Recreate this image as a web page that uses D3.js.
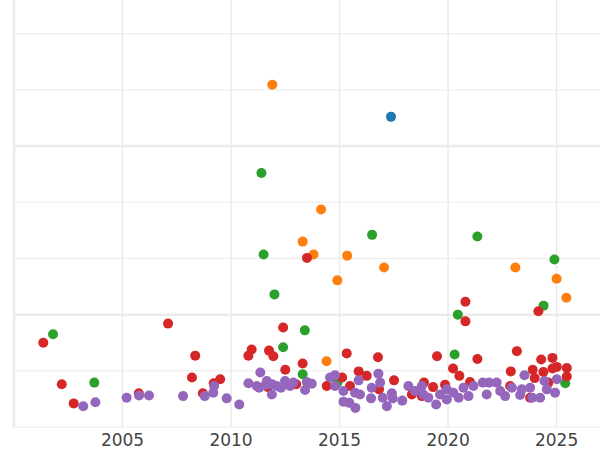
<!DOCTYPE html>
<html>
<head>
<meta charset="utf-8">
<script src="https://cdn.jsdelivr.net/npm/d3@7"></script>
<style>body{margin:0;background:#fff}</style>
</head>
<body>
<div id="chart"></div>
<script>
// [year, value] per series
var blue = [[2017.37, 6.52]];
var orange = [[2011.9, 7.09], [2014.15, 4.87], [2013.3, 4.30], [2013.8, 4.07], [2015.35, 4.05], [2017.05, 3.84],
  [2014.9, 3.61], [2023.1, 3.84], [2025.0, 3.64], [2025.45, 3.30], [2014.4, 2.17]];
var green = [[2001.8, 2.65], [2003.7, 1.79], [2011.4, 5.52], [2011.5, 4.07], [2012.0, 3.36], [2012.4, 2.42],
  [2013.4, 2.72], [2013.3, 1.94], [2016.5, 4.42], [2021.35, 4.39], [2020.45, 3.0], [2020.3, 2.29],
  [2024.4, 3.16], [2024.9, 3.98], [2025.4, 1.78], [2014.9, 1.79]];
var red = [[2001.35, 2.50], [2002.2, 1.76], [2002.75, 1.42], [2005.75, 1.60], [2007.1, 2.84], [2008.35, 2.27],
  [2008.2, 1.88], [2008.7, 1.60], [2009.2, 1.78], [2009.5, 1.85], [2010.8, 2.27], [2010.95, 2.38],
  [2011.75, 2.36], [2011.95, 2.26], [2012.4, 2.77], [2012.5, 2.02], [2011.7, 1.71], [2013.0, 1.76],
  [2013.5, 4.01], [2013.3, 2.13], [2015.33, 2.31], [2015.12, 1.88], [2015.88, 1.99], [2016.25, 1.91],
  [2016.77, 2.24], [2017.51, 1.83], [2019.49, 2.26], [2020.23, 2.04], [2020.52, 1.91], [2020.8, 3.23],
  [2020.8, 2.88], [2021.35, 2.21], [2022.89, 1.99], [2023.17, 2.35], [2023.9, 2.02], [2023.99, 1.87],
  [2024.16, 3.06], [2024.29, 2.20], [2024.39, 1.98], [2024.81, 2.23], [2024.81, 2.04], [2025.01, 2.07],
  [2025.47, 2.05], [2025.47, 1.90], [2014.41, 1.73], [2015.48, 1.73], [2016.82, 1.67], [2018.33, 1.58],
  [2018.89, 1.79], [2019.31, 1.71], [2019.86, 1.75], [2021.01, 1.80], [2022.86, 1.73], [2023.78, 1.52],
  [2024.62, 1.79], [2018.79, 1.55]];
var purple = [[2003.19, 1.37], [2003.75, 1.44], [2005.19, 1.52], [2005.76, 1.56], [2006.22, 1.56], [2007.79, 1.55],
  [2008.79, 1.55], [2009.18, 1.61], [2009.22, 1.73], [2009.8, 1.51], [2010.38, 1.40], [2010.8, 1.78],
  [2011.35, 1.97], [2011.18, 1.73], [2011.65, 1.82], [2011.88, 1.58], [2012.11, 1.73], [2012.49, 1.82],
  [2012.87, 1.79], [2012.72, 1.73], [2011.3, 1.70], [2011.6, 1.75], [2012.3, 1.70], [2011.9, 1.76],
  [2013.41, 1.66], [2013.49, 1.80], [2013.72, 1.77], [2014.56, 1.88], [2014.79, 1.92], [2014.79, 1.73],
  [2015.18, 1.64], [2015.18, 1.45], [2015.45, 1.43], [2015.73, 1.34], [2015.71, 1.61], [2015.88, 1.83],
  [2015.94, 1.58], [2016.45, 1.51], [2016.48, 1.70], [2016.79, 1.95], [2016.87, 1.79], [2016.99, 1.52],
  [2017.18, 1.37], [2017.41, 1.60], [2017.45, 1.51], [2017.89, 1.47], [2018.17, 1.73], [2018.48, 1.64],
  [2018.79, 1.73], [2018.86, 1.58], [2019.09, 1.52], [2019.45, 1.40], [2019.63, 1.58], [2019.94, 1.67],
  [2019.94, 1.49], [2020.24, 1.61], [2020.49, 1.52], [2020.71, 1.70], [2020.94, 1.55], [2021.17, 1.73],
  [2021.6, 1.79], [2021.78, 1.58], [2021.89, 1.79], [2022.24, 1.79], [2022.4, 1.64], [2022.63, 1.55],
  [2022.94, 1.70], [2023.32, 1.57], [2023.4, 1.67], [2023.52, 1.92], [2023.78, 1.70], [2023.88, 1.52],
  [2024.24, 1.52], [2024.44, 1.82], [2024.55, 1.67], [2024.93, 1.61], [2025.01, 1.85]];
var xTicks = [2000, 2005, 2010, 2015, 2020, 2025];
var yGrid = [1, 2, 3, 4, 5, 6, 7, 8];

var series = [
  { data: blue, color: "#1f77b4" },
  { data: orange, color: "#ff7f0e" },
  { data: green, color: "#2ca02c" },
  { data: red, color: "#d62728" },
  { data: purple, color: "#9467bd" }
];

var width = 600, height = 450;
var margin = { top: 0, right: 0, bottom: 23, left: 14 };

var svg = d3.select("#chart").append("svg")
  .attr("width", width)
  .attr("height", height);

var x = d3.scaleLinear().domain([2000, 2027]).range([margin.left, width - margin.right]);
var y = d3.scaleLinear().domain([1, 8.6]).range([height - margin.bottom, margin.top]);

// grid
svg.append("g").selectAll("line").data(yGrid).enter().append("line")
  .attr("x1", margin.left).attr("x2", width)
  .attr("y1", d => y(d)).attr("y2", d => y(d))
  .attr("stroke", "#ebebeb")
  .attr("stroke-width", d => d % 3 === 0 ? 2.5 : 1);

svg.append("g").selectAll("line").data(xTicks).enter().append("line")
  .attr("x1", d => x(d)).attr("x2", d => x(d))
  .attr("y1", 0).attr("y2", height - margin.bottom)
  .attr("stroke", "#ebebeb")
  .attr("stroke-width", d => d === 2000 ? 2.5 : 1.5);

// tick labels
svg.append("g").selectAll("text").data(xTicks.slice(1)).enter().append("text")
  .attr("x", d => x(d)).attr("y", 446)
  .attr("text-anchor", "middle")
  .style("font-family", "'DejaVu Sans', sans-serif")
  .style("font-size", "17px")
  .attr("fill", "#444")
  .text(d => d);

// dots
series.forEach(function (s) {
  svg.append("g").selectAll("circle").data(s.data).enter().append("circle")
    .attr("cx", d => x(d[0]))
    .attr("cy", d => y(d[1]))
    .attr("r", 5)
    .attr("fill", s.color);
});
</script>
</body>
</html>
